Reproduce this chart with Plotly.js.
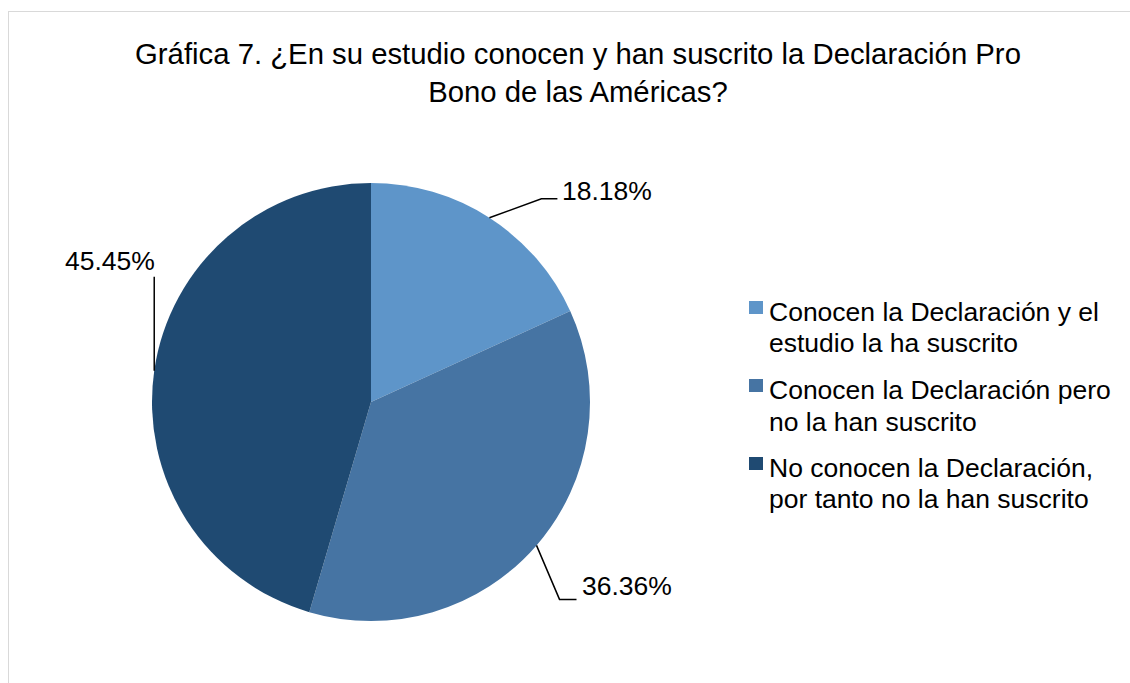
<!DOCTYPE html>
<html>
<head>
<meta charset="utf-8">
<script src="https://cdn.plot.ly/plotly-3.0.1.min.js"></script>
<style>
  html, body { margin: 0; padding: 0; background: #ffffff; }
  #wrap { position: relative; width: 1130px; height: 683px; overflow: hidden; }
  #chart { position: absolute; left: 0; top: 0; width: 1130px; height: 683px; }
  #frame { position: absolute; left: 8px; top: 11px; width: 1200px; height: 800px;
           border: 1px solid #d9d9d9; box-sizing: border-box; pointer-events: none; }
</style>
</head>
<body>
<div id="wrap">
  <div id="chart"></div>
  <div id="frame"></div>
</div>
<script>
// ---- data ----
const categories = [
  "Conocen la Declaración y el<br>estudio la ha suscrito",
  "Conocen la Declaración pero<br>no la han suscrito",
  "No conocen la Declaración,<br>por tanto no la han suscrito"
];
const values = [18.18, 36.36, 45.45];
const valueLabels = ["18.18%", "36.36%", "45.45%"];
const colors = ["#5E95C9", "#4674A3", "#1F4A72"];

// ---- geometry (page pixels) ----
const W = 1130, H = 683;
const cx = 371, cy = 402, R = 219;
const px = x => x / W;
const py = y => 1 - y / H;
const FONT = "Liberation Sans, Arial, sans-serif";

// leader-line layout for each label: [dx1, dy1, horizontal extension]
const leaderOffsets = [[52, -19, 16], [23, 54, 17], [0, -94, 0]];
const labelShift = [[3, -8, "left"], [3, -13, "left"], [3, -16, "right"]];

const total = values.reduce((a, b) => a + b, 0);
const shapes = [];
const annotations = [];
let cum = 0;
values.forEach((v, i) => {
  const mid = (cum + v / 2) / total * 2 * Math.PI; // clockwise from 12 o'clock
  cum += v;
  const ex = cx + R * Math.sin(mid);
  const ey = cy - R * Math.cos(mid);
  const [dx, dy, hx] = leaderOffsets[i];
  const bx = ex + dx, by = ey + dy;
  const hxSigned = Math.sin(mid) >= 0 ? hx : -hx;
  const tx = bx + hxSigned, ty = by;
  const pathPts = [[ex, ey], [bx, by], [tx, ty]];
  shapes.push({
    type: "path", xref: "paper", yref: "paper",
    path: "M" + pathPts.map(p => px(p[0]) + "," + py(p[1])).join(" L"),
    line: { color: "#000000", width: 1.5 }
  });
  const [sx, sy, anchor] = labelShift[i];
  const lx = anchor === "right" ? tx + sx : tx + sx;
  annotations.push({
    xref: "paper", yref: "paper",
    x: px(lx), y: py(ty + sy),
    xanchor: anchor, yanchor: "middle",
    text: valueLabels[i], showarrow: false,
    font: { family: FONT, size: 26.5, color: "#000000" }
  });
});

// ---- legend (drawn with shapes + annotations for Excel-like spacing) ----
const legX = 749, legSq = 14, legTextX = 767;
const legTop = 312, legEntryGap = 78, legLineGap = 31.5;
categories.forEach((c, i) => {
  const lines = c.split("<br>");
  const y0 = legTop + i * legEntryGap;
  shapes.push({
    type: "rect", xref: "paper", yref: "paper",
    x0: px(legX), x1: px(legX + legSq),
    y0: py(y0 - 11), y1: py(y0 - 11 + legSq - 1),
    fillcolor: colors[i], line: { width: 0 }
  });
  lines.forEach((t, j) => {
    annotations.push({
      xref: "paper", yref: "paper",
      x: px(legTextX), y: py(y0 + j * legLineGap),
      xanchor: "left", yanchor: "middle",
      text: t, showarrow: false,
      font: { family: FONT, size: 26.5, color: "#000000" }
    });
  });
});

const trace = {
  type: "pie",
  labels: categories,
  values: values,
  sort: false,
  direction: "clockwise",
  rotation: 0,
  textinfo: "none",
  hoverinfo: "label+percent",
  showlegend: false,
  marker: { colors: colors, line: { width: 0 } },
  domain: { x: [px(cx - R), px(cx + R)], y: [py(cy + R), py(cy - R)] }
};

const layout = {
  width: W, height: H,
  margin: { l: 0, r: 0, t: 0, b: 0 },
  paper_bgcolor: "#ffffff",
  font: { family: FONT, color: "#000000" },
  title: {
    text: "Gráfica 7. ¿En su estudio conocen y han suscrito la Declaración Pro<br>Bono de las Américas?",
    font: { family: FONT, size: 29.3, color: "#000000" },
    xref: "paper", x: 0.5115, xanchor: "center",
    yref: "container", y: 1 - 64 / H, yanchor: "top"
  },
  showlegend: false,
  shapes: shapes,
  annotations: annotations
};

Plotly.newPlot("chart", [trace], layout, { displayModeBar: false, staticPlot: true });
</script>
</body>
</html>
